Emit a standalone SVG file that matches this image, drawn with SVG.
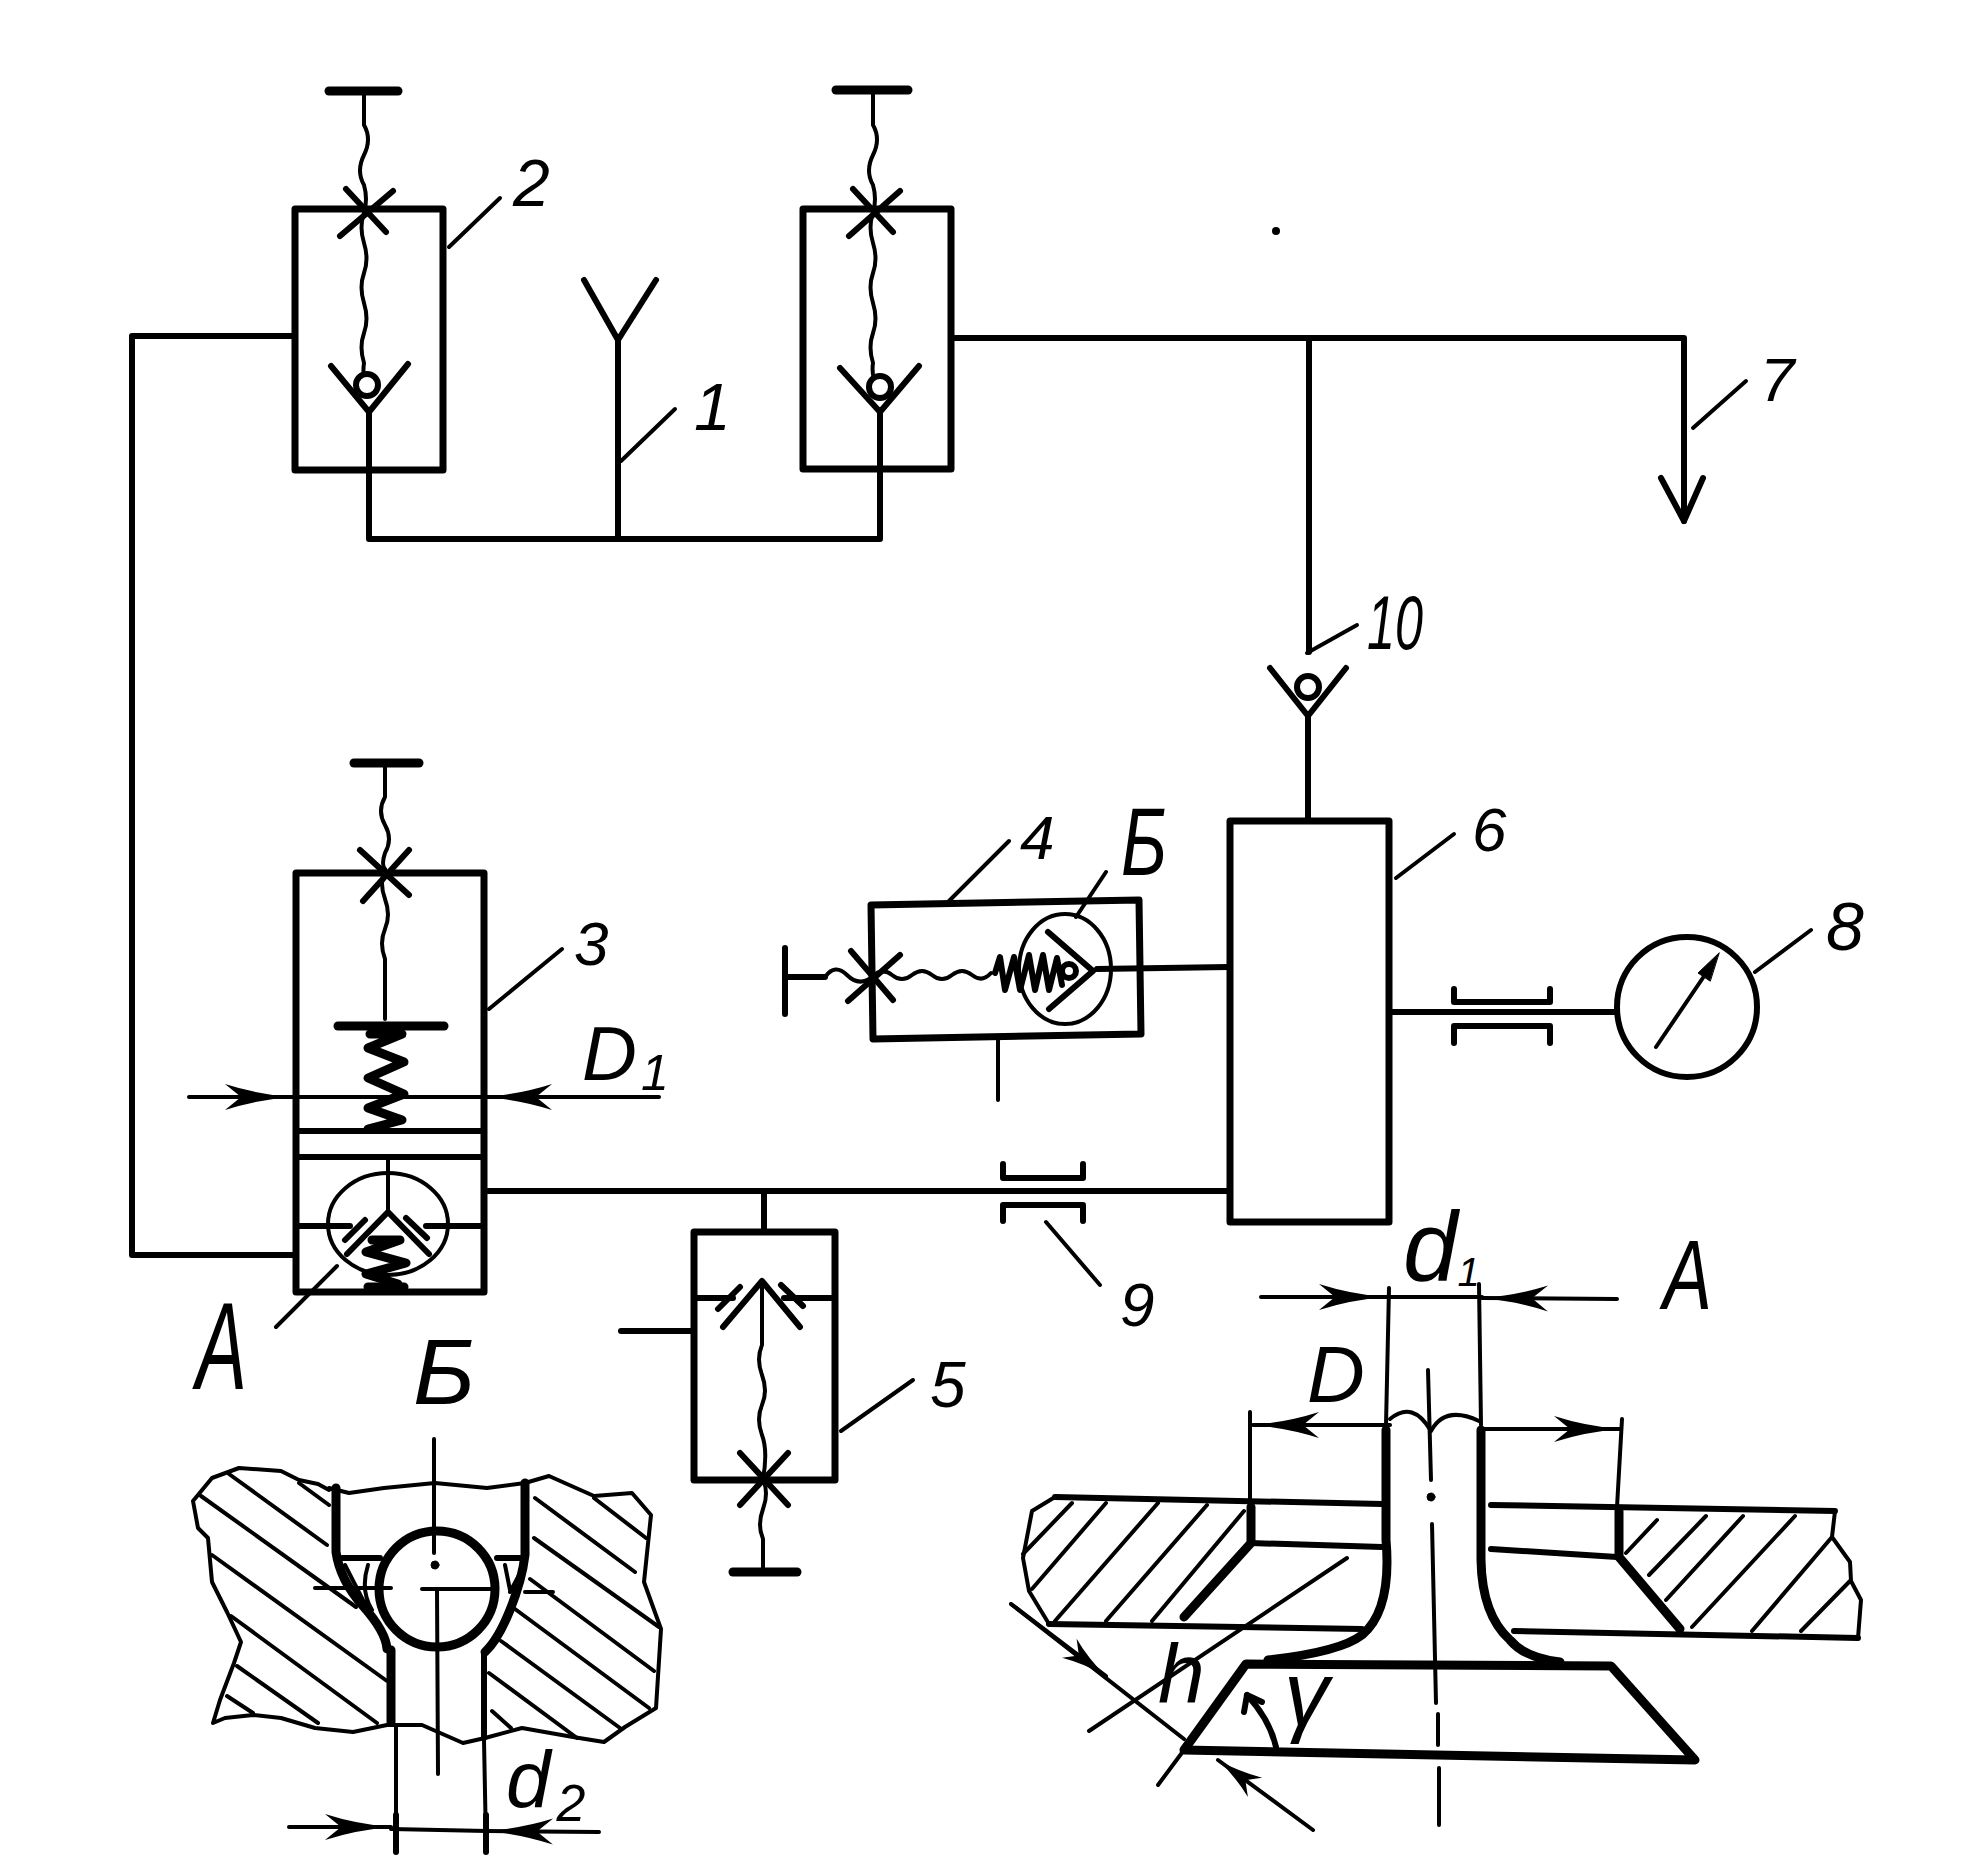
<svg xmlns="http://www.w3.org/2000/svg" width="1975" height="1867" viewBox="0 0 1975 1867">
<style>
.a{fill:none;stroke:#000;stroke-linejoin:round;stroke-linecap:round}
.thin{stroke-width:4}
.mid{stroke-width:6}
.thick{stroke-width:9}
.box{fill:none;stroke:#000;stroke-width:7;stroke-linejoin:round}
.white{fill:#fff;stroke:#000;stroke-width:6}
text{font-family:"Liberation Sans",Arial,sans-serif;font-style:italic;fill:#000}
</style>
<defs>
<marker id="dim" viewBox="-68 -15 70 30" refX="0" refY="0" markerWidth="70" markerHeight="30" markerUnits="userSpaceOnUse" orient="auto"><path d="M0 0Q-35-3-66-13L-50 0-66 13Q-35 3 0 0Z" fill="#000"/></marker>
<marker id="dimS" viewBox="-48 -13 50 26" refX="0" refY="0" markerWidth="50" markerHeight="26" markerUnits="userSpaceOnUse" orient="auto"><path d="M0 0Q-24-3-46-12L-34 0-46 12Q-24 3 0 0Z" fill="#000"/></marker>
</defs>
<rect width="1975" height="1867" fill="#fff"/>

<g id="connectors" class="a mid">
<path d="M292 336H132V1255H294"/>
<path d="M369 410V539H880V410"/>
<path d="M618 339V539"/>
<path d="M955 338H1684V521"/>
<path d="M1661 478L1684 521 1703 478"/>
<path d="M1309 338V652"/>
<path d="M1308 716V821"/>
<path d="M488 1191H1230"/>
<path d="M764 1191V1232"/>
<path d="M1097 969L1229 967"/>
<path d="M1391 1012H1617"/>
</g>

<g id="node-1" class="a">
<path class="mid" d="M584 280L618 340 656 280"/>
<path class="thin" d="M621 461L675 409"/>
</g>

<g id="node-2a" class="a">
<rect class="box" x="295" y="209" width="148" height="261"/>
<path class="thick" d="M329 91H398"/>
<path class="thin" d="M364 93V125q8 14 0 30t0 30q4 14 0 28M364 213q-5 14 0 30t0 30t0 30t0 30t0 30q-2 14 3 22"/>
<path class="mid" d="M346 189L386 232M393 191L340 236"/>
<path class="mid" d="M331 366L369 412 408 364"/>
<circle class="white" cx="367" cy="385" r="11"/>
<path class="mid" d="M369 412V470"/>
<path class="thin" d="M449 247L500 198"/>
</g>

<g id="node-2b" class="a">
<rect class="box" x="803" y="209" width="148" height="260"/>
<path class="thick" d="M836 90H908"/>
<path class="thin" d="M873 93V125q8 14 0 30t0 30q4 14 0 28M873 213q-5 14 0 30t0 30t0 30t0 30t0 30q-2 14 5 24"/>
<path class="mid" d="M853 189L893 232M900 191L849 236"/>
<path class="mid" d="M840 368L880 412 919 366"/>
<circle class="white" cx="880" cy="387" r="11"/>
<path class="mid" d="M880 412V469"/>
</g>

<g id="node-3" class="a">
<rect class="box" x="296" y="873" width="188" height="419"/>
<path class="mid" d="M296 1131H484M296 1157H484"/>
<path class="thick" d="M354 763H419"/>
<path class="thin" d="M385 765V797q-8 14 0 28t0 28q-4 12 0 16M385 869q-6 14 0 30t0 30t0 30v60"/>
<path class="mid" d="M360 850L409 895M409 850L363 901"/>
<path class="thick" d="M338 1026H444"/>
<path class="a thick" d="M370 1034H402L368 1048 404 1062 368 1078 404 1094 368 1108 402 1120 368 1129"/>
<path class="mid" d="M296 1226H350M426 1226H484"/>
<ellipse class="a thin" cx="388" cy="1224" rx="60" ry="51"/>
<path class="thin" d="M388 1158V1212"/>
<path class="mid" d="M347 1254L388 1212 429 1254M365 1220L345 1240M406 1218L427 1238"/>
<path class="a thick" d="M372 1240H400L366 1252 406 1263 366 1274 398 1284"/>
<path class="thick" d="M368 1287H404"/>
<path class="thin" d="M337 1266L276 1327"/>
<path class="thin" d="M489 1009L562 949"/>
<path class="thin" d="M189 1097H291" marker-end="url(#dim)"/>
<path class="thin" d="M659 1097H486" marker-end="url(#dim)"/>
<path class="thin" d="M291 1097H486"/>
</g>

<g id="node-4" class="a">
<path class="box" d="M871 905L1139 900 1141 1034 873 1039Z"/>
<path class="mid" d="M785 948V1014M785 977H825"/>
<path class="thin" d="M825 977q10-14 22-2t25 2q10-10 20-2t20 0t20 0t20 0t20 0t19-2"/>
<path class="mid" d="M851 951L893 1000M900 955L848 1001"/>
<path class="a mid" d="M995 973L1000 957 1005 990 1014 957 1020 990 1029 955 1035 990 1043 955 1049 990 1057 958 1062 985"/>
<path class="mid" d="M1048 932L1093 971 1049 1009"/>
<circle class="white" cx="1069" cy="971" r="7"/>
<ellipse class="a thin" cx="1065" cy="969" rx="46" ry="55"/>
<path class="thin" d="M998 1039V1100"/>
<path class="thin" d="M949 901L1009 841M1076 917L1106 872"/>
</g>

<g id="node-5" class="a">
<rect class="box" x="694" y="1232" width="141" height="248"/>
<path class="mid" d="M694 1298H733M784 1298H835"/>
<path class="mid" d="M723 1327L762 1281 800 1327M740 1287L718 1309M781 1285L803 1306"/>
<path class="thin" d="M762 1281V1345q-6 14 0 30t0 30t0 30t1 44M763 1479q6 14 0 30t0 30q0 15 0 30"/>
<path class="mid" d="M740 1453L788 1505M788 1453L740 1505"/>
<path class="mid" d="M621 1331H694"/>
<path class="thick" d="M733 1572H797"/>
<path class="thin" d="M841 1431L913 1380"/>
</g>

<g id="node-6" class="a">
<rect class="box" x="1230" y="821" width="159" height="401"/>
<path class="thin" d="M1396 878L1454 834"/>
</g>

<g id="node-7" class="a"><path class="thin" d="M1693 428L1746 381"/></g>

<g id="node-8" class="a">
<circle class="a mid" cx="1687" cy="1007" r="70"/>
<path class="thin" d="M1656 1047L1713 963"/>
<path d="M1719 953L1698 973 1710 981Z" fill="#000" stroke="#000"/>
<path class="thin" d="M1755 972L1811 930"/>
<path class="mid" d="M1454 989V1002H1550V989M1454 1043V1026H1550V1043"/>
</g>

<g id="node-9" class="a">
<path class="mid" d="M1003 1164V1178H1083V1164M1003 1221V1205H1083V1221"/>
<path class="thin" d="M1046 1222L1100 1285"/>
</g>

<g id="node-10" class="a">
<path class="mid" d="M1270 668L1308 716 1346 668"/>
<circle class="white" cx="1308" cy="687" r="11"/>
<path class="thin" d="M1307 653L1357 625"/>
</g>

<g id="detail-A" class="a">
<path class="thick" d="M1386 1430V1540Q1392 1610 1362 1635Q1340 1652 1268 1660"/>
<path class="thick" d="M1481 1430V1560Q1482 1615 1510 1640Q1525 1658 1560 1662"/>
<path class="thick" d="M1246 1664L1611 1666 1695 1760 1184 1750Z"/>
<path class="mid" d="M1055 1497L1382 1504M1491 1505L1835 1511M1049 1624L1362 1629M1514 1631L1858 1638"/>
<path class="mid" d="M1250 1543L1382 1547M1491 1549L1617 1557"/>
<path class="thick" d="M1251 1507V1543L1184 1617M1619 1511V1557L1680 1629"/>
<path class="thin" d="M1055 1497L1032 1511 1023 1558 1029 1591 1049 1624M1835 1511L1832 1537 1850 1562 1851 1581 1861 1600 1858 1638"/>
<path class="thin" d="M1072 1503L1023 1554M1106 1503L1032 1589M1158 1503L1055 1621M1207 1505L1106 1621M1244 1511L1152 1621M1657 1520L1626 1553M1706 1516L1649 1575M1743 1516L1666 1600M1795 1516L1692 1627M1832 1537L1752 1631M1850 1581L1801 1631"/>
<path class="thin" d="M1428 1370L1431 1480M1432 1524L1436 1703M1438 1714V1745M1439 1768V1825"/>
<circle cx="1431" cy="1497" r="4" fill="#000" stroke="#000"/>
<path class="thin" d="M1390 1419Q1413 1400 1431 1431Q1445 1405 1479 1421"/>
<path class="thin" d="M1389 1288L1386 1425M1479 1284L1481 1425M1250 1412V1503M1622 1419L1617 1507"/>
<path class="thin" d="M1261 1297H1385" marker-end="url(#dim)"/>
<path class="thin" d="M1617 1299L1482 1298" marker-end="url(#dim)"/>
<path class="thin" d="M1385 1297H1482"/>
<path class="thin" d="M1390 1425H1253" marker-end="url(#dim)"/>
<path class="thin" d="M1481 1429H1620" marker-end="url(#dim)"/>
<path class="thin" d="M1011 1604L1184 1739"/>
<path class="thin" d="M1011 1604L1106 1676" marker-end="url(#dimS)"/>
<path class="thin" d="M1313 1830L1218 1760" marker-end="url(#dimS)"/>
<path class="thin" d="M1347 1558L1089 1731M1184 1750L1158 1785"/>
<path class="mid" d="M1247 1695Q1270 1720 1276 1747"/>
<path class="mid" d="M1247 1695L1244 1712M1247 1695L1262 1702"/>
</g>

<g id="detail-B" class="a">
<path class="a thin" d="M329 1490L318 1484 299 1480 281 1471 239 1468 212 1478 193 1501 198 1528 208 1538 212 1582 227 1612 241 1642 234 1663 220 1700 213 1723 225 1718 253 1715 281 1718 315 1728 353 1732 387 1725 422 1725 463 1743 485 1738 522 1728 573 1737 604 1742 625 1727 656 1708 661 1629 644 1582 651 1515 632 1493 594 1496 549 1476 525 1483 487 1488 435 1483 384 1488 349 1493 329 1488"/>
<path class="thick" d="M336 1488V1552Q340 1580 363 1606T387 1649"/>
<path class="thick" d="M391 1650V1722"/>
<path class="thick" d="M525 1483V1555Q522 1580 510 1610T485 1652"/>
<path class="mid" d="M484 1652V1738"/>
<path class="mid" d="M342 1558H380M497 1558H525"/>
<circle class="a thick" cx="437" cy="1589" r="58"/>
<path class="thin" d="M345 1565L366 1606M368 1565Q360 1590 372 1610M505 1565L510 1590M526 1562L510 1592"/>
<path class="thin" d="M434 1439V1553M315 1588H391M422 1589H496M525 1592H553M437 1589L438 1774"/>
<circle cx="435" cy="1565" r="4" fill="#000" stroke="#000"/>
<path class="thin" d="M396 1727V1844M484 1740L486 1844"/>
<path class="thin" d="M229 1474L327 1545M201 1496L356 1607M212 1555L387 1681M231 1616L377 1723M237 1666L318 1723M227 1696L253 1713M299 1483L329 1505"/>
<path class="thin" d="M535 1498L635 1572M594 1498L646 1538M534 1538L659 1627M530 1579L654 1671M515 1609L649 1708M501 1641L620 1728M489 1673L577 1738M492 1711L511 1728"/>
<path class="thin" d="M289 1827H391" marker-end="url(#dim)"/>
<path class="thin" d="M599 1832L487 1831" marker-end="url(#dim)"/>
<path class="thin" d="M391 1829L487 1831"/>
<path class="mid" d="M396 1815V1852M486 1815V1852"/>
</g>

<g id="labels">
<text x="513" y="206" font-size="66">2</text>
<text x="694" y="430" font-size="66">1</text>
<text x="1760" y="401" font-size="62">7</text>
<text x="1367" y="649" font-size="76" textLength="56" lengthAdjust="spacingAndGlyphs">10</text>
<text x="1020" y="859" font-size="62">4</text>
<text x="1121" y="875" font-size="96" textLength="46" lengthAdjust="spacingAndGlyphs">Б</text>
<text x="1472" y="851" font-size="62">6</text>
<text x="1826" y="950" font-size="68">8</text>
<text x="574" y="965" font-size="62">3</text>
<text x="582" y="1080" font-size="76">D<tspan font-size="50" dx="4" dy="10">1</tspan></text>
<text x="1120" y="1326" font-size="62">9</text>
<text x="930" y="1407" font-size="64">5</text>
<text x="196" y="1389" font-size="125" textLength="51" lengthAdjust="spacingAndGlyphs">А</text>
<text x="413" y="1404" font-size="92" textLength="62" lengthAdjust="spacingAndGlyphs">Б</text>
<text x="1663" y="1309" font-size="98" textLength="49" lengthAdjust="spacingAndGlyphs">А</text>
<text x="1307" y="1402" font-size="80">D</text>
<text x="1403" y="1280" font-size="98">d<tspan font-size="40" dy="6">1</tspan></text>
<text x="506" y="1807" font-size="80">d<tspan font-size="52" dy="14" dx="6">2</tspan></text>
<text x="1158" y="1703" font-size="84">h</text>
<text x="1284" y="1725" font-size="90">γ</text>
</g>
<circle cx="1276" cy="231" r="4" fill="#000"/>
</svg>
